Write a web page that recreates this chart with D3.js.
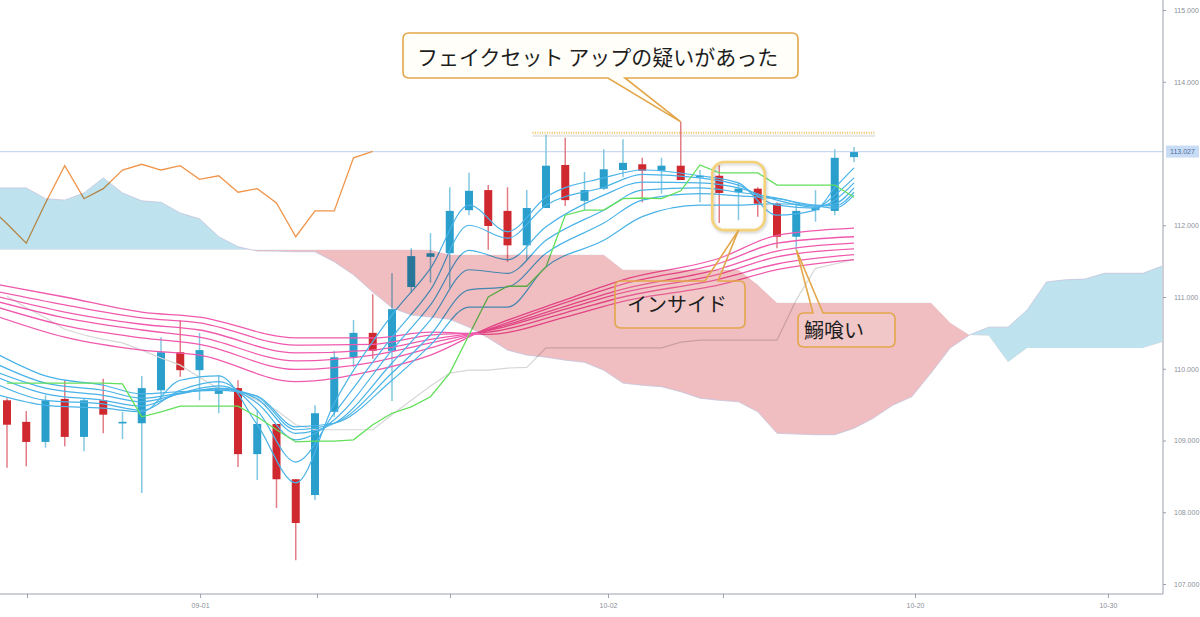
<html>
<head>
<meta charset="utf-8" />
<title>Ichimoku + GMMA</title>
<script src="https://cdn.jsdelivr.net/npm/d3@7"></script>
<style>
body { margin: 0; background: #fff; }
.axis text { font-family: "Liberation Sans", Arial, sans-serif; font-size: 7px; fill: #8a8f99; }
.axis line { stroke: #9aa0ad; }
.note { font-family: "Noto Sans CJK JP", sans-serif; fill: #1e1e1e; }
</style>
</head>
<body>
<script>

// candles, slot 0..44
var opens  = [109.56,109.26,108.98,109.58,109.05,109.56,109.24,109.24,109.70,110.23,109.98,109.65,109.73,108.81,109.23,108.46,108.24,109.40,110.16,110.50,110.25,111.14,111.56,111.61,112.21,112.49,112.20,111.72,112.24,112.84,112.34,112.51,112.77,112.85,112.76,112.83,112.67,112.69,112.46,112.51,112.30,111.84,112.21,112.20,112.95];
var highs  = [109.59,109.41,109.63,109.84,109.59,109.86,109.40,109.90,110.44,110.68,110.50,109.91,109.84,109.43,109.23,108.46,109.49,110.25,110.68,111.04,111.33,111.68,111.89,112.53,112.73,112.56,112.53,112.49,113.26,113.22,112.74,113.06,113.20,112.94,112.94,113.44,112.77,112.84,112.59,112.53,112.32,112.31,112.49,113.06,113.09];
var lows   = [108.62,108.64,108.90,108.92,108.85,109.10,109.02,108.27,109.55,109.89,109.56,109.38,108.63,108.45,108.06,107.33,108.17,109.33,110.02,110.14,109.55,111.06,111.20,111.13,112.14,111.66,111.49,111.52,112.24,112.27,112.21,112.49,112.67,112.32,112.44,112.63,112.32,112.03,112.07,112.12,111.68,111.66,112.05,112.14,112.88];
var closes = [109.22,108.98,109.56,109.05,109.56,109.36,109.26,109.73,110.23,109.98,110.26,109.73,108.81,109.23,108.46,107.85,109.38,110.16,110.50,110.25,110.83,111.57,111.61,112.20,112.48,111.99,111.72,112.24,112.83,112.35,112.49,112.78,112.87,112.76,112.83,112.63,112.69,112.45,112.51,112.30,111.84,112.20,112.24,112.94,113.02];

// ichimoku cloud, slot -1..60
var senkouA = [112.52,112.52,112.52,112.37,112.35,112.45,112.66,112.45,112.34,112.32,112.17,112.09,111.84,111.70,111.64,111.64,111.63,111.63,111.49,111.31,111.07,110.85,110.75,110.72,110.69,110.58,110.43,110.26,110.19,110.16,110.12,110.09,109.98,109.80,109.77,109.75,109.68,109.59,109.56,109.54,109.40,109.10,109.09,109.08,109.08,109.17,109.31,109.49,109.61,109.94,110.29,110.47,110.58,110.58,110.82,111.21,111.24,111.25,111.33,111.33,111.33,111.43];
var senkouB = [111.66,111.66,111.66,111.66,111.66,111.66,111.66,111.66,111.66,111.66,111.66,111.66,111.66,111.66,111.66,111.66,111.66,111.66,111.66,111.66,111.66,111.66,111.66,111.66,111.59,111.59,111.59,111.59,111.59,111.59,111.59,111.59,111.59,111.38,111.38,111.38,111.38,111.38,111.38,111.38,111.17,110.92,110.92,110.92,110.92,110.92,110.92,110.92,110.92,110.92,110.64,110.47,110.46,110.09,110.29,110.29,110.29,110.29,110.29,110.29,110.29,110.37];

// tenkan (green) and kijun (grey), slot 0..44
var tenkan = [109.80,109.80,109.80,109.80,109.80,109.80,109.79,109.33,109.40,109.48,109.48,109.48,109.48,109.33,109.15,108.98,108.99,108.99,109.01,109.22,109.38,109.47,109.61,109.94,110.47,111.00,111.15,111.15,111.42,112.14,112.21,112.21,112.37,112.38,112.37,112.48,112.84,112.73,112.73,112.73,112.56,112.56,112.56,112.56,112.39];
var kijun  = [111.01,110.85,110.71,110.55,110.47,110.41,110.36,110.26,110.15,110.05,109.88,109.72,109.68,109.56,109.42,109.22,109.15,109.15,109.15,109.15,109.36,109.56,109.76,109.94,109.98,109.98,110.01,110.02,110.29,110.29,110.29,110.29,110.29,110.29,110.29,110.37,110.40,110.40,110.40,110.40,110.40,110.96,111.40,111.46,111.52];

// chikou (orange), slot -1..19
var chikou = [112.28,112.02,111.75,112.31,112.83,112.37,112.51,112.77,112.85,112.77,112.83,112.64,112.69,112.46,112.51,112.31,111.84,112.20,112.20,112.94,113.03];

// GMMA short (blue)
var blueSlots = [-0.4,2,5,7,9,11,13,15,17,20,22,24,26,28,31,33,36,38,40,42,43,44];
var blue0 = [109.63,109.49,109.45,109.40,109.84,109.90,109.22,108.41,109.52,110.75,111.40,112.28,111.91,112.39,112.66,112.77,112.69,112.59,112.14,112.21,112.52,112.80];
var blue1 = [109.77,109.56,109.51,109.42,109.70,109.82,109.42,108.70,109.38,110.44,111.10,112.00,111.82,112.28,112.53,112.71,112.66,112.56,112.28,112.24,112.42,112.66];
var blue2 = [109.87,109.65,109.56,109.48,109.66,109.76,109.52,109.01,109.29,110.26,110.89,111.65,111.52,111.98,112.42,112.60,112.59,112.52,112.35,112.25,112.35,112.59];
var blue3 = [109.94,109.73,109.63,109.54,109.65,109.73,109.58,109.10,109.24,110.08,110.68,111.38,111.33,111.79,112.21,112.49,112.52,112.46,112.38,112.27,112.30,112.52];
var blue4 = [110.05,109.80,109.70,109.59,109.66,109.72,109.61,109.15,109.24,109.94,110.47,111.10,111.14,111.61,112.03,112.35,112.44,112.41,112.37,112.28,112.27,112.46];
var blue5 = [110.19,109.90,109.77,109.65,109.68,109.70,109.62,109.19,109.24,109.84,110.33,110.86,110.86,111.42,111.79,112.12,112.28,112.28,112.30,112.27,112.24,112.42];

// GMMA long (pink)
var pinkSlots = [-0.4,3,7,10,15,19,22,25,29,32,37,40,44];
var pink0 = [110.72,110.44,110.26,110.19,109.82,109.97,110.19,110.57,110.96,111.24,111.54,111.86,111.96];
var pink1 = [110.85,110.60,110.43,110.34,109.99,110.09,110.29,110.55,110.92,111.18,111.47,111.75,111.84];
var pink2 = [110.93,110.71,110.54,110.44,110.11,110.19,110.36,110.54,110.87,111.11,111.39,111.64,111.75];
var pink3 = [111.00,110.79,110.62,110.54,110.22,110.26,110.41,110.53,110.83,111.06,111.32,111.56,111.67];
var pink4 = [111.07,110.89,110.71,110.64,110.33,110.34,110.47,110.51,110.78,111.00,111.25,111.46,111.59];
var pink5 = [111.17,111.00,110.79,110.72,110.43,110.43,110.51,110.48,110.72,110.94,111.17,111.38,111.52];

var lastPrice = 113.027;
var resistance = 113.29;
var resistFrom = 27.3, resistTo = 45.1;

// 113.000 sits under the last-price tag in the original, so it is not labelled
var priceTicks = [107,108,109,110,111,112,114,115];
var tickSlots  = [1.04,10.03,16.1,23.01,31.22,37.19,47.17,57.19];
var tickLabels = ["","09-01","","","10-02","","10-20","10-30"];


var W = 1200, H = 617, plotR = 1163, plotB = 594;

var x = d3.scaleLinear().domain([0,60]).range([7,1162]);
var y = d3.scaleLinear().domain([107,115]).range([584,10]);

var svg = d3.select("body").append("svg")
	.attr("width",W)
	.attr("height",H)
	.attr("xmlns","http://www.w3.org/2000/svg");

var defs = svg.append("defs");
defs.append("clipPath").attr("id","plot")
	.append("rect").attr("width",plotR).attr("height",plotB);

var cloud = senkouA.map(function(a,i) { return {s:i-1, a:a, b:senkouB[i]}; });

defs.append("clipPath").attr("id","aboveB")
	.append("path")
	.attr("d", d3.area().x(d=>x(d.s)).y0(0).y1(d=>y(d.b))(cloud));
defs.append("clipPath").attr("id","belowB")
	.append("path")
	.attr("d", d3.area().x(d=>x(d.s)).y0(d=>y(d.b)).y1(plotB)(cloud));

var shadow = defs.append("filter").attr("id","soft").attr("x","-20%").attr("y","-20%").attr("width","140%").attr("height","140%");
shadow.append("feDropShadow").attr("dx",1).attr("dy",1.5).attr("stdDeviation",1.6)
	.attr("flood-color","#888").attr("flood-opacity",0.45);

var g = svg.append("g").attr("clip-path","url(#plot)");

// last price line
g.append("line")
	.attr("x1",0).attr("x2",plotR)
	.attr("y1",y(lastPrice)).attr("y2",y(lastPrice))
	.attr("stroke","#c9d9f1").attr("stroke-width",1.2);

// resistance (dotted)
g.append("line")
	.attr("x1",x(resistFrom)).attr("x2",x(resistTo))
	.attr("y1",y(resistance)+3).attr("y2",y(resistance)+3)
	.attr("stroke","#e9e9e9").attr("stroke-width",2.5);
g.append("line")
	.attr("x1",x(resistFrom)).attr("x2",x(resistTo))
	.attr("y1",y(resistance)).attr("y2",y(resistance))
	.attr("stroke","#f1c254").attr("stroke-width",2)
	.attr("stroke-dasharray","1 1.4");

// candles
var candles = opens.map(function(o,i) {
	return {s:i, o:o, h:highs[i], l:lows[i], c:closes[i]};
});

var cg = g.append("g");
cg.selectAll(".wick").data(candles).enter().append("line")
	.attr("class","wick")
	.attr("x1",d=>x(d.s)).attr("x2",d=>x(d.s))
	.attr("y1",d=>y(d.h)).attr("y2",d=>y(d.l))
	.attr("stroke",d=>d.c>=d.o ? "#84c7e2" : "#e27c86")
	.attr("stroke-width",1.5);

cg.selectAll(".body").data(candles).enter().append("rect")
	.attr("class","body")
	.attr("x",d=>x(d.s)-4)
	.attr("width",8)
	.attr("y",d=>y(Math.max(d.o,d.c)))
	.attr("height",d=>Math.max(1.6, Math.abs(y(d.o)-y(d.c))))
	.attr("fill",d=>d.c>=d.o ? "#2a9fcc" : "#d0282f");

// indicator lines
var pairLine = d3.line().x(d=>x(d[0])).y(d=>y(d[1]));
var smooth = d3.line().x(d=>x(d[0])).y(d=>y(d[1])).curve(d3.curveMonotoneX);

g.append("path")
	.datum(kijun.map((v,i)=>[i,v]))
	.attr("fill","none").attr("stroke","#d6d6d6").attr("stroke-width",1.2)
	.attr("d",pairLine);

[pink0,pink1,pink2,pink3,pink4,pink5].forEach(function(arr) {
	g.append("path")
		.datum(arr.map((v,i)=>[pinkSlots[i],v]))
		.attr("fill","none").attr("stroke","#f05aae").attr("stroke-width",1.3)
		.attr("d",smooth);
});

[blue0,blue1,blue2,blue3,blue4,blue5].forEach(function(arr) {
	g.append("path")
		.datum(arr.map((v,i)=>[blueSlots[i],v]))
		.attr("fill","none").attr("stroke","#49b3e8").attr("stroke-width",1.2)
		.attr("d",smooth);
});

g.append("path")
	.datum(tenkan.map((v,i)=>[i,v]))
	.attr("fill","none").attr("stroke","#62e05a").attr("stroke-width",1.3)
	.attr("d",pairLine);

g.append("path")
	.datum(chikou.map((v,i)=>[i-1,v]))
	.attr("fill","none").attr("stroke","#f0954c").attr("stroke-width",1.3)
	.attr("d",pairLine);

// cloud on top, multiplied
var band = d3.area().x(d=>x(d.s)).y0(d=>y(d.a)).y1(d=>y(d.b));
var kumo = g.append("g").style("mix-blend-mode","multiply");
kumo.append("path").datum(cloud)
	.attr("clip-path","url(#aboveB)")
	.attr("fill","#bee3ee")
	.attr("d",band);
kumo.append("path").datum(cloud)
	.attr("clip-path","url(#belowB)")
	.attr("fill","#f0bec1")
	.attr("d",band);
kumo.append("path").datum(cloud)
	.attr("fill","none").attr("stroke","#c3c3dc").attr("stroke-width",0.8)
	.attr("d",d3.line().x(d=>x(d.s)).y(d=>y(d.a)));

// callouts
var callout = function(x0,y0,x1,y1,a,b,px,py,side) {
	var r = 6;
	var p = d3.path();
	if(side=="top") {
		p.moveTo(x0+r,y0); p.lineTo(a,y0); p.lineTo(px,py); p.lineTo(b,y0); p.lineTo(x1-r,y0);
	} else {
		p.moveTo(x0+r,y0); p.lineTo(x1-r,y0);
	}
	p.quadraticCurveTo(x1,y0,x1,y0+r);
	p.lineTo(x1,y1-r);
	p.quadraticCurveTo(x1,y1,x1-r,y1);
	if(side=="bottom") {
		p.lineTo(b,y1); p.lineTo(px,py); p.lineTo(a,y1);
	}
	p.lineTo(x0+r,y1);
	p.quadraticCurveTo(x0,y1,x0,y1-r);
	p.lineTo(x0,y0+r);
	p.quadraticCurveTo(x0,y0,x0+r,y0);
	p.closePath();
	return p.toString();
}

var notes = svg.append("g");

// inside-bar highlight
notes.append("rect")
	.attr("x",x(37)-7).attr("width",x(39)-x(37)+14)
	.attr("y",y(highs[37])-3).attr("height",y(lows[37])-y(highs[37])+10)
	.attr("rx",12).attr("ry",12)
	.attr("fill","none").attr("stroke","#f3d27a").attr("stroke-width",2.6)
	.attr("filter","url(#soft)");

notes.append("path")
	.attr("d",callout(403,33,798,78,608,625,x(35),y(highs[35]),"bottom"))
	.attr("fill","#fffef9").attr("stroke","#e3a64a").attr("stroke-width",1.6);
notes.append("text").attr("class","note")
	.attr("x",417).attr("y",65)
	.attr("font-size","21px")
	.text("フェイクセット アップの疑いがあった");

notes.append("path")
	.attr("d",callout(615,281,745,328,705,718,x(38),y(lows[37])+7,"top"))
	.attr("fill","rgba(255,252,240,0.15)").attr("stroke","#e3a64a").attr("stroke-width",1.6);
notes.append("text").attr("class","note")
	.attr("x",627).attr("y",312)
	.attr("font-size","20px")
	.text("インサイド");

notes.append("path")
	.attr("d",callout(798,313,895,347,813,823,x(41),y(lows[41]),"top"))
	.attr("fill","rgba(255,252,240,0.15)").attr("stroke","#e3a64a").attr("stroke-width",1.6);
notes.append("text").attr("class","note")
	.attr("x",804).attr("y",338)
	.attr("font-size","20px")
	.text("鰯喰い");

// axes
svg.append("line")
	.attr("x1",plotR).attr("x2",plotR).attr("y1",0).attr("y2",plotB)
	.attr("stroke","#9aa0ad").attr("stroke-width",1);
svg.append("line")
	.attr("x1",0).attr("x2",plotR).attr("y1",plotB).attr("y2",plotB)
	.attr("stroke","#9aa0ad").attr("stroke-width",1);

var yAxis = svg.append("g").attr("class","axis")
	.attr("transform","translate(" + plotR + ",0)")
	.call(d3.axisRight(y).tickValues(priceTicks).tickFormat(d3.format(".3f")).tickSize(3).tickPadding(8));
yAxis.select(".domain").remove();

var xAxis = svg.append("g").attr("class","axis")
	.attr("transform","translate(0," + plotB + ")")
	.call(d3.axisBottom(x).tickValues(tickSlots).tickFormat((d,i)=>tickLabels[i]).tickSize(4).tickPadding(5));
xAxis.select(".domain").remove();

// last price tag
svg.append("rect")
	.attr("x",plotR+3).attr("y",y(lastPrice)-6)
	.attr("width",33).attr("height",12)
	.attr("fill","#c9dcf6");
svg.append("text")
	.attr("x",plotR+19.5).attr("y",y(lastPrice)+2.5)
	.attr("text-anchor","middle")
	.attr("font-family","Liberation Sans, Arial, sans-serif")
	.attr("font-size","7px").attr("fill","#4d6f99")
	.text(d3.format(".3f")(lastPrice));

</script>
</body>
</html>
